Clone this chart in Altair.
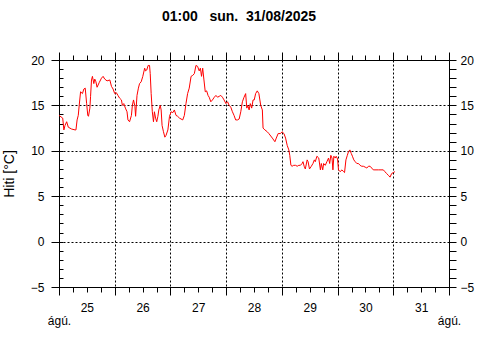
import altair as alt
import pandas as pd

# hours since 25 Aug 2025 00:00
hours = [0, 1.6, 2.1, 2.6, 3.3, 4.0, 5.4, 6.9, 7.3, 7.8, 8.3, 8.7, 9.3, 10.1, 10.7, 11.3,
         11.9, 12.4, 12.7, 13.3, 13.6, 14.0, 14.4, 15.0, 15.4, 15.9, 16.4, 17.3, 18.3, 19.0,
         19.7, 20.7, 21.9, 22.6, 23.3, 24.0, 24.7, 25.4, 26.1, 26.9, 27.3, 27.9, 28.6, 29.3,
         29.7, 30.4, 31.2, 31.6, 32.1, 32.7, 33.0, 33.6, 34.2, 34.7, 35.4, 36.1, 36.9, 37.3,
         37.8, 38.4, 39.0, 39.3, 39.7, 40.2, 40.7, 41.1, 41.6, 42.1, 42.6, 43.0, 43.6, 44.0,
         44.4, 45.0, 45.6, 46.1, 46.9, 47.6, 48.3, 49.0, 49.7, 50.4, 51.1, 51.9, 53.3, 54.0,
         54.7, 55.4, 56.1, 56.9, 57.6, 58.3, 59.0, 59.7, 60.4, 60.9, 61.4, 61.9, 62.4, 63.0,
         63.6, 64.2, 64.7, 65.4, 66.1, 66.9, 67.6, 68.3, 69.0, 69.7, 70.4, 71.1, 71.9, 72.6,
         73.3, 74.0, 74.7, 75.4, 76.1, 76.9, 77.6, 78.3, 79.0, 79.7, 80.4, 80.9, 81.3, 81.9,
         82.4, 83.0, 83.6, 84.1, 84.7, 85.4, 86.1, 86.9, 87.6, 87.9, 88.7, 89.7, 90.4, 91.9,
         93.0, 93.6, 94.4, 95.4, 96.1, 96.9, 97.6, 98.3, 99.0, 99.4, 99.9, 100.4, 101.1, 101.9,
         102.6, 103.3, 104.0, 104.7, 105.1, 105.6, 106.1, 106.9, 107.3, 107.9, 108.7, 109.4,
         110.0, 110.4, 111.1, 111.9, 112.6, 113.0, 113.6, 114.0, 114.7, 115.4, 116.1, 116.6,
         117.1, 117.6, 118.0, 118.4, 119.0, 119.4, 120.0, 120.4, 121.1, 121.9, 122.6, 123.0,
         123.6, 124.2, 124.7, 125.3, 125.9, 126.4, 127.0, 127.6, 128.3, 129.0, 129.7, 130.4,
         131.1, 131.9, 132.6, 133.3, 134.0, 134.7, 135.4, 136.1, 137.6, 139.7, 140.4, 141.1,
         141.9, 142.6, 143.3, 144.0, 144.7]
temps = [13.9, 13.6, 12.3, 12.8, 13.2, 12.6, 12.4, 12.3, 12.3, 13.4, 13.9, 15.0, 16.5, 16.3,
         16.8, 16.9, 15.2, 13.9, 13.8, 14.7, 16.0, 17.8, 18.2, 17.4, 17.9, 17.6, 17.0, 17.5,
         18.0, 18.2, 17.9, 17.7, 17.8, 17.1, 16.8, 16.3, 16.4, 16.1, 15.8, 15.6, 15.0, 15.2,
         14.7, 14.3, 13.4, 13.2, 13.9, 15.0, 15.6, 14.9, 13.8, 16.1, 16.9, 17.4, 17.6, 18.2,
         19.1, 18.8, 18.9, 19.4, 19.4, 18.5, 16.3, 14.3, 13.2, 14.3, 13.6, 13.2, 13.8, 14.5,
         15.0, 14.5, 12.8, 12.1, 11.5, 11.7, 12.3, 13.8, 14.3, 14.2, 14.5, 13.9, 13.8, 13.6,
         13.4, 13.9, 15.2, 16.3, 16.9, 18.2, 18.3, 18.5, 19.4, 19.3, 18.8, 19.1, 18.2, 19.1,
         17.9, 16.5, 16.6, 16.1, 15.9, 15.4, 15.6, 15.9, 16.1, 15.9, 16.0, 16.1, 15.9, 15.6,
         15.2, 15.4, 15.0, 14.8, 14.3, 13.9, 13.4, 13.4, 13.5, 14.3, 15.4, 15.9, 16.3, 14.7,
         15.0, 14.5, 15.2, 14.7, 15.6, 15.6, 16.3, 16.6, 16.3, 15.0, 14.5, 12.5, 12.3, 12.1,
         11.9, 11.4, 11.0, 11.4, 11.9, 11.9, 12.1, 11.9, 11.4, 10.6, 10.1, 9.5, 8.4, 8.3, 8.4,
         8.4, 8.3, 8.4, 8.4, 8.6, 8.8, 8.3, 8.0, 9.0, 8.8, 8.0, 8.3, 8.6, 9.0, 8.8, 9.4, 9.2,
         7.9, 8.6, 7.9, 8.6, 8.4, 8.8, 9.2, 8.6, 9.5, 9.2, 7.9, 9.4, 9.2, 9.4, 9.1, 7.9, 7.7,
         7.9, 7.7, 7.6, 9.0, 9.5, 9.9, 10.1, 9.7, 9.4, 9.0, 8.8, 8.6, 8.6, 8.4, 8.3, 8.3, 8.2,
         8.1, 8.3, 8.3, 8.1, 7.9, 7.9, 7.9, 7.9, 7.7, 7.5, 7.3, 7.1, 7.5, 7.6, 7.7]

day_labels = ["25", "26", "27", "28", "29", "30", "31"]
month_label = "ágú."
title_text = "01:00\u00a0\u00a0\u00a0sun.\u00a0\u00a031/08/2025"
y_title = "Hiti [°C]"

df = pd.DataFrame({"h": hours, "t": temps})

FONT = "Liberation Sans"
X_MAX = 24 * len(day_labels)
xscale = alt.Scale(domain=[0, X_MAX], nice=False, zero=False)
yscale = alt.Scale(domain=[-5, 20], nice=False, zero=False)

six_hourly = list(range(0, X_MAX + 1, 6))
noons = [12 + 24 * i for i in range(len(day_labels))]
units = list(range(-5, 21))
fives = list(range(-5, 21, 5))

major_x = {"condition": {"test": "datum.value % 24 == 0", "value": 8}, "value": 5}
grid_x = {"condition": {"test": f"datum.value % 24 == 0 && datum.value > 0 && datum.value < {X_MAX}",
                        "value": 1}, "value": 0}
grid_y = {"condition": {"test": "datum.value > -5 && datum.value < 20", "value": 1}, "value": 0}

common = dict(labelFont=FONT, labelFontSize=12, labelColor="black", tickColor="black",
              domainColor="black", titleFont=FONT, titleColor="black")

base = alt.Chart(df)

line = base.mark_line(color="#ff0000", strokeWidth=1).encode(
    x=alt.X("h:Q", scale=xscale, axis=alt.Axis(
        orient="bottom", values=six_hourly, labels=False, title=None, tickSize=major_x,
        grid=True, gridColor="black", gridDash=[2, 2], gridOpacity=grid_x, **common)),
    y=alt.Y("t:Q", scale=yscale, axis=alt.Axis(
        orient="left", values=fives, tickSize=8, labelPadding=7, title=y_title,
        titleFontSize=14, titleFontWeight="normal", titlePadding=14,
        grid=True, gridColor="black", gridDash=[2, 2], gridOpacity=grid_y, **common)),
)

minor = base.mark_line(opacity=0).encode(
    x=alt.X("h:Q", scale=xscale, axis=alt.Axis(
        orient="bottom", values=noons, ticks=False, domain=False, grid=False, title=None,
        labelExpr=f"{day_labels}[floor(datum.value / 24)]", labelPadding=15,
        labelFlush=False, labelOverlap=False, **common)),
    y=alt.Y("t:Q", scale=yscale, axis=alt.Axis(
        orient="left", values=units, tickSize=4, offset=-4, labels=False, domain=False,
        grid=False, title=None, **common)),
)

other = base.mark_line(opacity=0).encode(
    x=alt.X("h:Q", scale=xscale, axis=alt.Axis(
        orient="top", values=six_hourly, labels=False, title=None, tickSize=major_x,
        grid=False, **common)),
    y=alt.Y("t:Q", scale=yscale, axis=alt.Axis(
        orient="right", values=units, tickSize=7, labelPadding=4, title=None, grid=False,
        labelExpr="datum.value % 5 == 0 ? datum.label : ''", labelOverlap=False, **common)),
)

month = base.mark_line(opacity=0).encode(
    x=alt.X("h:Q", scale=xscale, axis=alt.Axis(
        orient="bottom", values=[0, X_MAX], ticks=False, domain=False, grid=False, title=None,
        labelExpr=f"'{month_label}'", labelPadding=28, labelFlush=False, labelOverlap=False,
        **common)),
    y=alt.Y("t:Q", scale=yscale, axis=None),
)

chart = alt.layer(line, minor, other, month).resolve_axis(
    x="independent", y="independent"
).properties(
    width=390, height=227,
    padding={"left": 59, "top": 60, "right": 31, "bottom": 73},
    autosize="none",
    background="white",
    title=alt.TitleParams(title_text, font=FONT, fontSize=14, fontWeight="bold",
                          color="black", anchor="middle", offset=28, dx=-15),
).configure_view(stroke="black", strokeWidth=1)

chart.save("out.html", embed_options={"renderer": "svg", "actions": False})
